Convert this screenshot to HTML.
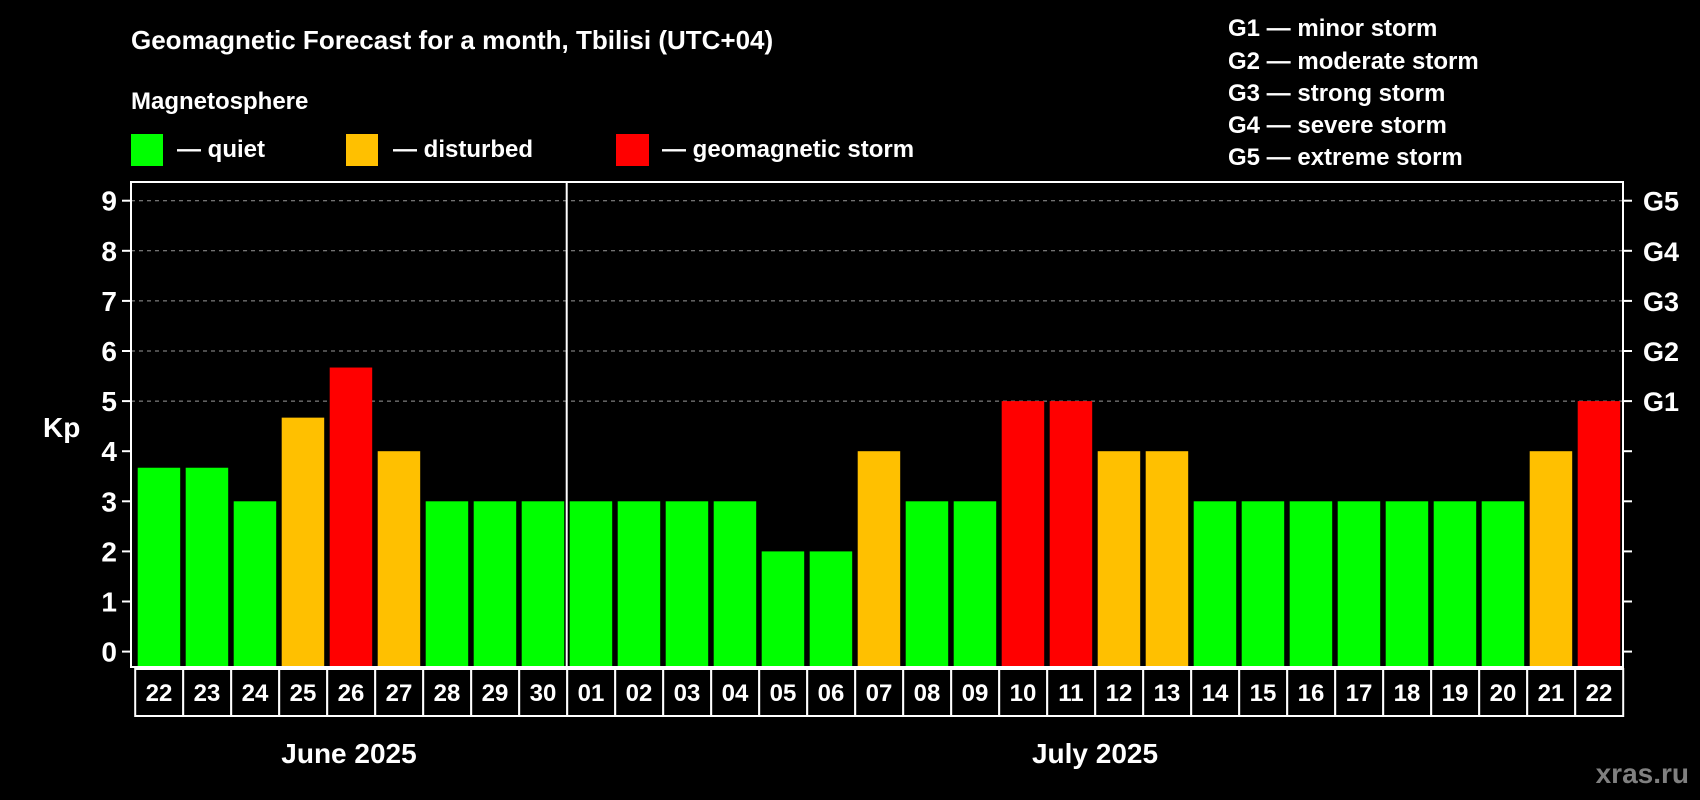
<!DOCTYPE html>
<html><head><meta charset="utf-8"><style>
body{margin:0;background:#000;}
svg{display:block;font-family:"Liberation Sans",Arial,sans-serif;font-weight:bold;}
</style></head><body>
<svg id="c" width="1700" height="800" viewBox="0 0 1700 800">
<rect width="1700" height="800" fill="#000"/>
<text x="131" y="49" fill="#fff" font-size="26">Geomagnetic Forecast for a month, Tbilisi (UTC+04)</text>
<text x="131" y="109" fill="#fff" font-size="24">Magnetosphere</text>
<g><rect x="131" y="134" width="32" height="32" fill="#00ff00"/><text x="177" y="157" fill="#fff" font-size="24">— quiet</text></g>
<g><rect x="346" y="134" width="32" height="32" fill="#ffc000"/><text x="393" y="157" fill="#fff" font-size="24">— disturbed</text></g>
<g><rect x="616" y="134" width="33" height="32" fill="#ff0000"/><text x="662" y="157" fill="#fff" font-size="24">— geomagnetic storm</text></g>
<g fill="#fff" font-size="24">
<text x="1228" y="36">G1 — minor storm</text>
<text x="1228" y="69">G2 — moderate storm</text>
<text x="1228" y="101">G3 — strong storm</text>
<text x="1228" y="133">G4 — severe storm</text>
<text x="1228" y="165">G5 — extreme storm</text>
</g>
<text x="43" y="437" fill="#fff" font-size="28">Kp</text>
<text x="349" y="763" fill="#fff" font-size="28" text-anchor="middle">June 2025</text>
<text x="1095" y="763" fill="#fff" font-size="28" text-anchor="middle">July 2025</text>
<text x="1689" y="783" fill="#808080" font-size="28" text-anchor="end">xras.ru</text>
<g id="plot"></g>
</svg>
<script>
const days = ["22","23","24","25","26","27","28","29","30","01","02","03","04","05","06","07","08","09","10","11","12","13","14","15","16","17","18","19","20","21","22"];
const kp = [3.67,3.67,3,4.67,5.67,4,3,3,3,3,3,3,3,2,2,4,3,3,5,5,4,4,3,3,3,3,3,3,3,4,5];
const yTicks = [0,1,2,3,4,5,6,7,8,9];
const gLabels = ["G1","G2","G3","G4","G5"];
const gLevels = [5,6,7,8,9];
const monthSplit = 9;

const NS="http://www.w3.org/2000/svg";
const g=document.getElementById('plot');
const L=131,R=1623,T=182,B=667;
const y=v=>651.6-v*50.1;
const pitch=48.0, x0=137.7, bw=42.5;
const x=i=>x0+i*pitch;
function mk(t,a){const e=document.createElementNS(NS,t);for(const k in a)e.setAttribute(k,a[k]);g.appendChild(e);return e;}
gLevels.forEach(v=>{
 const e=mk('line',{x1:L,x2:R,y1:y(v),y2:y(v),stroke:'#999','stroke-dasharray':'4,4','stroke-width':1});
 
 
});
kp.forEach((v,i)=>{
 const c=v>=5?'#ff0000':(v>=4?'#ffc000':'#00ff00');
 const e=mk('rect',{x:x(i),y:y(v),width:bw,height:y(0)-y(v)+15,fill:c});
 
 
});
const fr=mk('rect',{x:L,y:T,width:R-L,height:B-T,fill:'none',stroke:'#fff','stroke-width':2});


const dv=mk('line',{x1:x(monthSplit)-3,x2:x(monthSplit)-3,y1:T,y2:B,stroke:'#fff','stroke-width':2});


yTicks.forEach(v=>{
 mk('line',{x1:L-9,x2:L,y1:y(v),y2:y(v),stroke:'#fff','stroke-width':2});
 mk('line',{x1:R,x2:R+9,y1:y(v),y2:y(v),stroke:'#fff','stroke-width':2});
 const t=mk('text',{x:L-14,y:y(v)+10,fill:'#fff','font-size':28,'text-anchor':'end'});
 t.textContent=v;
 
 
});
gLevels.forEach((v,i)=>{
 const t=mk('text',{x:R+20,y:y(v)+10,fill:'#fff','font-size':27});
 t.textContent=gLabels[i];
 
 
});
days.forEach((d,i)=>{
 const r=mk('rect',{x:x(i)-2.5,y:669,width:pitch,height:47,fill:'#000',stroke:'#fff','stroke-width':2});
 
 
 const t=mk('text',{x:x(i)+bw/2,y:701,fill:'#fff','font-size':24,'text-anchor':'middle'});
 t.textContent=d;
 
 
});
</script>
</body></html>
